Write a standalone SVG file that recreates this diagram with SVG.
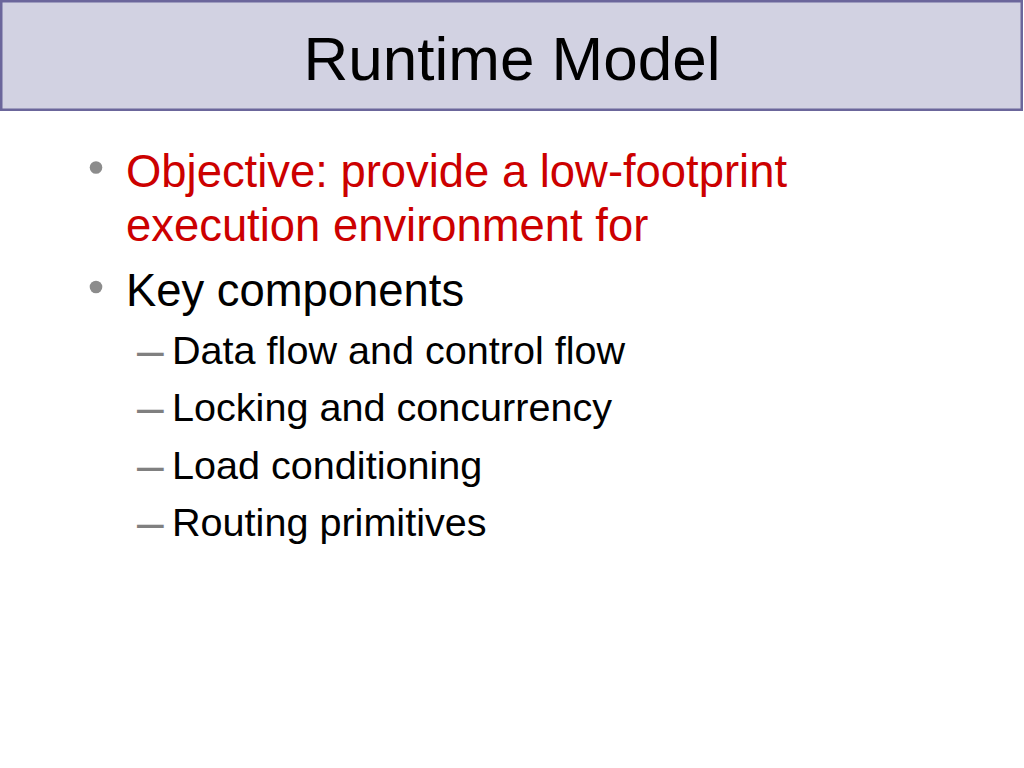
<svg xmlns="http://www.w3.org/2000/svg" width="1024" height="768" viewBox="0 0 1024 768">
<style>
text{font-family:"Liberation Sans",Arial,sans-serif}
.title{font-size:62px;fill:#000}
.l1{font-size:45.4px}
.red{fill:#cc0000}
.blk{fill:#000}
.l2{font-size:39.6px;fill:#000}
.dash{fill:#808080;font-size:48px}
.bul{fill:#8c8c8c}
</style>
<rect width="1024" height="768" fill="#fff"/>
<g id="title-bar">
<rect x="1.25" y="1.25" width="1020.5" height="108.5" fill="#d2d2e2" stroke="#6b669b" stroke-width="2.5"/>
<text class="title" x="512" y="80" text-anchor="middle">Runtime Model</text>
</g>
<g id="bullets">
<circle class="bul" cx="96" cy="167.5" r="6.3"/>
<text class="l1 red" x="126" y="187">Objective: provide a low-footprint</text>
<text class="l1 red" x="126" y="241">execution environment for</text>
<circle class="bul" cx="96" cy="287" r="6.3"/>
<text class="l1 blk" x="126" y="306">Key components</text>
<text class="dash" x="137" y="367">–</text>
<text class="l2" x="172" y="364">Data flow and control flow</text>
<text class="dash" x="137" y="424">–</text>
<text class="l2" x="172" y="421">Locking and concurrency</text>
<text class="dash" x="137" y="482">–</text>
<text class="l2" x="172" y="479">Load conditioning</text>
<text class="dash" x="137" y="539">–</text>
<text class="l2" x="172" y="536">Routing primitives</text>
</g>
</svg>
